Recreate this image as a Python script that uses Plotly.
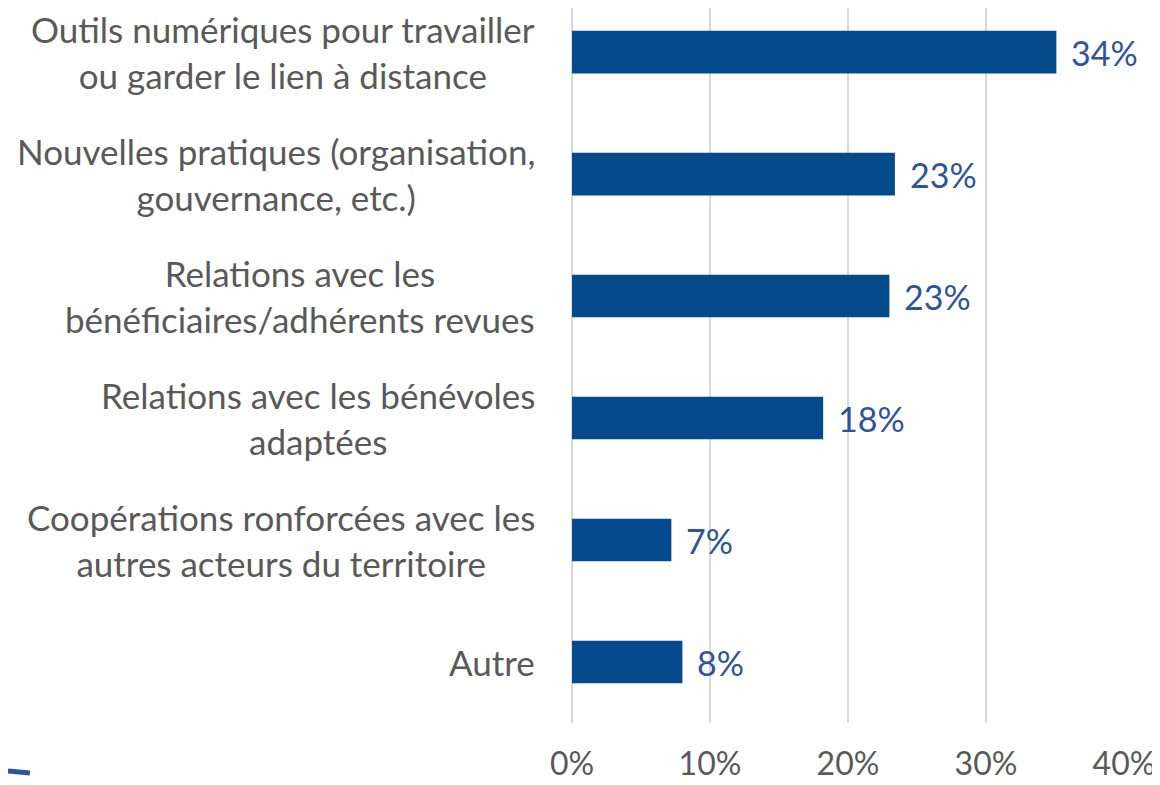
import plotly.graph_objects as go

# Data (listed top to bottom as in the picture)
categories = [
    "Outils numériques pour travailler<br>ou garder le lien à distance",
    "Nouvelles pratiques (organisation,<br>gouvernance, etc.)",
    "Relations avec les<br>bénéficiaires/adhérents revues",
    "Relations avec les bénévoles<br>adaptées",
    "Coopérations ronforcées avec les<br>autres acteurs du territoire",
    "Autre",
]
values = [35.1, 23.4, 23.0, 18.2, 7.2, 8.0]
value_labels = ["34%", "23%", "23%", "18%", "7%", "8%"]
x_ticks = [0, 10, 20, 30, 40]
x_tick_labels = ["0%", "10%", "20%", "30%", "40%"]

FONT = "Lato"
GRAY = "#595959"
BAR = "#064A8E"
LBL = "#2F529E"

# plot bottom-to-top
cats_r = categories[::-1]
vals_r = values[::-1]
labs_r = value_labels[::-1]
ypos = list(range(len(cats_r)))

fig = go.Figure()
fig.add_trace(go.Bar(
    x=vals_r, y=ypos, orientation="h",
    marker=dict(color=BAR, line=dict(width=0)),
    width=0.35, hoverinfo="skip",
))

annotations = []
for y, v, t in zip(ypos, vals_r, labs_r):
    annotations.append(dict(x=v, y=y, xref="x", yref="y", text=t, showarrow=False,
                            xanchor="left", yanchor="middle", xshift=13,
                            font=dict(family=FONT, size=34, color=LBL)))
for y, c in zip(ypos, cats_r):
    annotations.append(dict(x=0, y=y, xref="paper", yref="y", text=c, showarrow=False,
                            xanchor="right", yanchor="middle", align="center", xshift=-35,
                            font=dict(family=FONT, size=35, color=GRAY)))

fig.update_layout(
    width=1152, height=777,
    margin=dict(l=564, r=36, t=0, b=62),
    paper_bgcolor="white", plot_bgcolor="white",
    showlegend=False,
    annotations=annotations,
    xaxis=dict(range=[0, 40], tickvals=x_ticks, ticktext=x_tick_labels,
               showgrid=True, gridcolor="#D9D9D9", gridwidth=2,
               zeroline=True, zerolinecolor="#D9D9D9", zerolinewidth=2,
               showline=False, ticks="", ticklabelstandoff=19, automargin=False,
               tickfont=dict(family=FONT, size=32, color=GRAY), fixedrange=True),
    yaxis=dict(range=[-0.5, 5.361], showticklabels=False, showgrid=False,
               zeroline=False, showline=False, fixedrange=True, automargin=False),
    shapes=[dict(type="path", xref="paper", yref="paper",
                 path="M -1.0217 -0.0671 L -0.982 -0.0699",
                 line=dict(color="#2F529E", width=5))],
)

fig.write_html("out.html")
